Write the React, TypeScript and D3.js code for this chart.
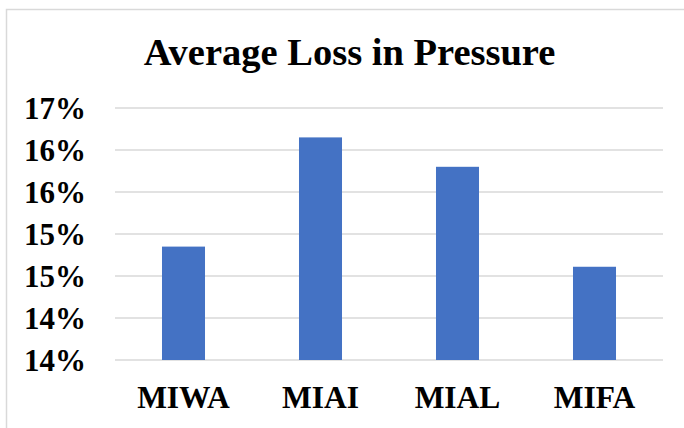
import React, { useEffect, useRef } from "react";
import { select, scaleBand, scaleLinear, axisLeft, axisBottom } from "d3";

const categories = ["MIWA", "MIAI", "MIAL", "MIFA"];
const lossValues = [15.35, 16.65, 16.3, 15.11];
const tickValues = [14, 14.5, 15, 15.5, 16, 16.5, 17];
const tickLabels = ["14%", "14%", "15%", "15%", "16%", "16%", "17%"];
const title = "Average Loss in Pressure";

const WIDTH = 684;
const HEIGHT = 428;

function App() {
  const svgRef = useRef<SVGSVGElement>(null);

  useEffect(() => {
    const svg = select(svgRef.current);
    svg.selectAll("*").remove();

    const font = "'Liberation Serif', 'Times New Roman', serif";

    // chart frame
    svg.append("rect")
      .attr("x", 6.5).attr("y", 9.5)
      .attr("width", 700).attr("height", 440)
      .attr("fill", "#fff")
      .attr("stroke", "#d9d9d9")
      .attr("stroke-width", 1.5);

    svg.append("text")
      .attr("x", 349.5).attr("y", 65)
      .attr("text-anchor", "middle")
      .attr("font-family", font)
      .attr("font-weight", "bold")
      .attr("font-size", 38.5)
      .attr("fill", "#000")
      .text(title);

    const x = scaleBand<string>()
      .domain(categories)
      .range([115, 663])
      .paddingInner(0.686)
      .paddingOuter(0.343);
    const y = scaleLinear().domain([14, 17]).range([360, 108]);

    // gridlines
    svg.append("g")
      .selectAll("line")
      .data(tickValues)
      .join("line")
      .attr("x1", 115).attr("x2", 663)
      .attr("y1", d => y(d)).attr("y2", d => y(d))
      .attr("stroke", "#d9d9d9")
      .attr("stroke-width", 1.5);

    // bars
    svg.append("g")
      .selectAll("rect")
      .data(categories)
      .join("rect")
      .attr("x", d => x(d)!)
      .attr("width", x.bandwidth())
      .attr("y", (d, i) => y(lossValues[i]))
      .attr("height", (d, i) => y(14) - y(lossValues[i]))
      .attr("fill", "#4472c4");

    const yAxis = axisLeft(y)
      .tickValues(tickValues)
      .tickFormat((d, i) => tickLabels[i])
      .tickSize(0)
      .tickPadding(0);
    const gy = svg.append("g")
      .attr("transform", "translate(86,0)")
      .call(yAxis);
    gy.select(".domain").remove();
    gy.selectAll("text")
      .attr("font-family", font)
      .attr("font-weight", "bold")
      .attr("font-size", 31)
      .attr("fill", "#000")
      .attr("dy", "0.34em");

    const xAxis = axisBottom(x).tickSize(0).tickPadding(0);
    const gx = svg.append("g")
      .attr("transform", "translate(0,360)")
      .call(xAxis);
    gx.select(".domain").remove();
    gx.selectAll("text")
      .attr("font-family", font)
      .attr("font-weight", "bold")
      .attr("font-size", 31.5)
      .attr("fill", "#000")
      .attr("y", 48)
      .attr("dy", 0);
  }, []);

  return (
    <div style={{ position: "fixed", left: 0, top: 0 }}>
      <svg ref={svgRef} width={WIDTH} height={HEIGHT} style={{ display: "block", background: "#fff" }} />
    </div>
  );
}

export default App;
